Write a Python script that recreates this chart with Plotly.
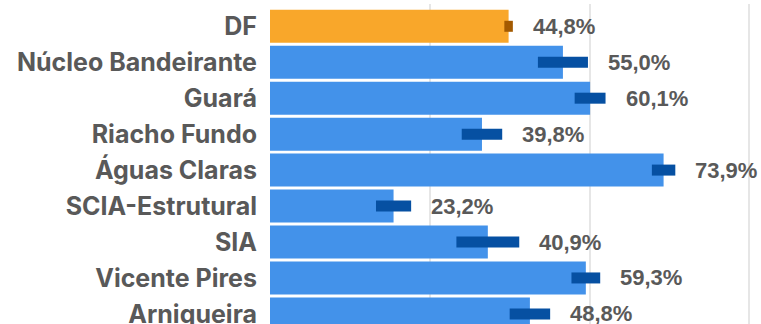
import plotly.graph_objects as go

# Regiões administrativas e percentuais estimados (com margem de erro)
regioes = ["DF", "Núcleo Bandeirante", "Guará", "Riacho Fundo", "Águas Claras",
           "SCIA-Estrutural", "SIA", "Vicente Pires", "Arniqueira"]
percentual = [44.8, 55.0, 60.1, 39.8, 73.9, 23.2, 40.9, 59.3, 48.8]
margem_erro = [0.8, 4.7, 2.9, 3.8, 2.2, 3.3, 5.9, 2.7, 3.8]

COR_DF = "#F9A72A"
COR_RA = "#4392EA"
ERRO_DF = "#A35A00"
ERRO_RA = "#0650A2"
COR_TEXTO = "#595959"

fig = go.Figure()

# Distrito Federal (destaque)
fig.add_trace(go.Bar(
    y=regioes[:1], x=percentual[:1], orientation="h",
    marker=dict(color=COR_DF, line=dict(width=0)),
    error_x=dict(type="data", array=margem_erro[:1], thickness=11, width=0, color=ERRO_DF),
    hoverinfo="skip", showlegend=False,
))

# Demais regiões administrativas
fig.add_trace(go.Bar(
    y=regioes[1:], x=percentual[1:], orientation="h",
    marker=dict(color=COR_RA, line=dict(width=0)),
    error_x=dict(type="data", array=margem_erro[1:], thickness=11, width=0, color=ERRO_RA),
    hoverinfo="skip", showlegend=False,
))

# Rótulos de valor à direita da margem de erro
for r, v, e in zip(regioes, percentual, margem_erro):
    fig.add_annotation(
        x=v + e, y=r, xref="x", yref="y",
        text=f"{v:.1f}%".replace(".", ","),
        showarrow=False, xanchor="left", yanchor="middle", xshift=18,
        font=dict(family="Liberation Sans, Arial, sans-serif", size=22,
                  color=COR_TEXTO, weight="bold"),
    )

fig.update_layout(
    width=761, height=324,
    margin=dict(l=270, r=0, t=4, b=0),
    paper_bgcolor="white", plot_bgcolor="white",
    barmode="overlay", bargap=0.082,
    xaxis=dict(range=[0, 92.19], tickvals=[0, 30, 60, 90], showticklabels=False,
               showgrid=True, gridcolor="#E6E6E6", gridwidth=2, automargin=False,
               zeroline=False, showline=False, fixedrange=True),
    yaxis=dict(categoryorder="array", categoryarray=regioes, automargin=False,
               range=[8.281, -0.62], ticks="", ticklabelstandoff=12,
               showgrid=False, zeroline=False, showline=False,
               tickfont=dict(family="Inter, sans-serif", size=25,
                             color=COR_TEXTO, weight="bold")),
)

fig.write_html("out.html")
